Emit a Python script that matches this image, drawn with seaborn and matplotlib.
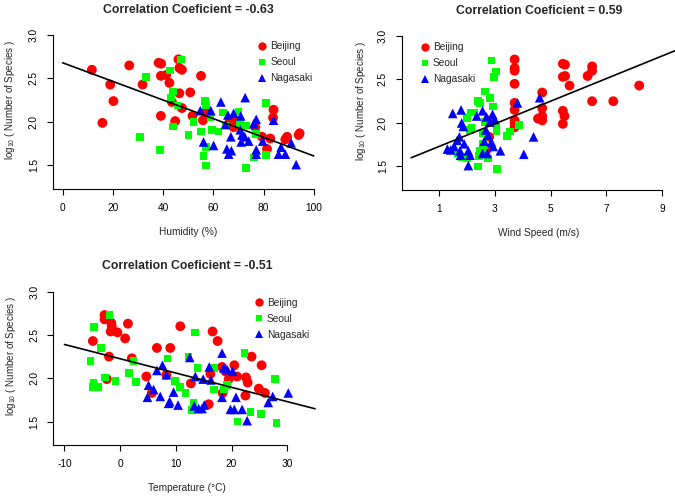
import numpy as np
import pandas as pd
import seaborn as sns
import matplotlib.pyplot as plt
from matplotlib.lines import Line2D

sns.set_style("ticks")
plt.rcParams['font.family'] = ['Liberation Sans', 'DejaVu Sans']
plt.rcParams['mathtext.default'] = 'regular'
plt.rcParams['axes.unicode_minus'] = False

cities = ['Beijing', 'Seoul', 'Nagasaki']
colors = {'Beijing': '#FF0000', 'Seoul': '#00FF00', 'Nagasaki': '#0000FF'}
markers = {'Beijing': 'o', 'Seoul': 's', 'Nagasaki': '^'}
sizes = {'Beijing': 50, 'Seoul': 30, 'Nagasaki': 48}

# humidity panel
hum_beijing_x = [11.6, 18.9, 20.2, 15.8, 26.5, 31.8, 38.2, 39.2, 39.1, 41.2, 42.5, 39.1, 43.5, 44.8, 46.1, 46.5, 47.5, 46.5, 47.5, 50.8,
                 55.1, 51.7, 55.9, 57.0, 66.8, 68.7, 68.1, 76.7, 79.4, 82.7, 81.4, 84.0, 83.8, 88.7, 89.4, 94.0, 94.4]
hum_beijing_y = [2.60, 2.43, 2.24, 1.99, 2.65, 2.43, 2.68, 2.67, 2.53, 2.54, 2.45, 2.07, 2.23, 2.01, 2.72, 2.62, 2.60, 2.33, 2.16, 2.34,
                 2.53, 2.07, 2.02, 2.12, 2.00, 2.02, 1.94, 1.94, 1.83, 1.81, 1.69, 2.14, 2.05, 1.80, 1.83, 1.85, 1.87]
hum_seoul_x = [30.9, 33.1, 38.8, 42.8, 43.9, 43.1, 43.9, 47.1, 45.7, 50.1, 52.1, 55.1, 56.8, 57.0, 56.1, 57.0, 57.0, 58.8, 59.4, 62.1,
               63.8, 64.8, 70.1, 70.7, 73.1, 73.0, 76.1, 77.1, 81.0, 81.1]
hum_seoul_y = [1.83, 2.52, 1.68, 2.59, 2.35, 2.28, 1.95, 2.72, 2.19, 1.85, 2.00, 1.89, 2.24, 2.19, 1.61, 1.50, 1.71, 2.06, 1.91, 1.89,
               2.11, 1.96, 2.12, 1.98, 1.96, 1.47, 1.59, 1.86, 2.22, 1.62]
hum_nagasaki_x = [54.8, 56.1, 59.0, 60.1, 63.0, 64.8, 65.4, 66.1, 67.2, 65.8, 67.0, 68.1, 70.9, 70.7, 71.4, 71.1, 72.7, 72.5, 74.1, 76.1,
                  77.1, 77.1, 77.1, 79.7, 84.0, 86.0, 87.0, 88.7, 91.0, 93.0]
hum_nagasaki_y = [2.13, 1.77, 2.13, 1.73, 2.23, 1.97, 1.69, 1.63, 1.67, 2.08, 1.83, 2.10, 2.07, 1.91, 1.85, 1.77, 2.28, 1.83, 1.78, 1.98,
                  2.03, 1.68, 1.63, 1.78, 2.02, 1.63, 1.71, 1.63, 1.76, 1.51]

# wind speed panel
wind_beijing_x = [2.80, 2.76, 2.73, 3.71, 3.71, 3.71, 3.71, 3.71, 3.71, 3.71, 3.71, 3.71, 4.70, 4.70, 4.70, 4.70, 4.55,
                  5.44, 5.52, 5.44, 5.52, 5.68, 5.44, 5.50, 5.44, 6.49, 6.49, 6.33, 6.49, 7.25, 8.18]
wind_beijing_y = [1.84, 2.03, 1.70, 2.73, 2.63, 2.60, 2.45, 2.23, 2.15, 2.03, 2.00, 1.95, 2.35, 2.17, 2.08, 2.03, 2.05,
                  2.68, 2.67, 2.53, 2.54, 2.43, 2.14, 2.08, 1.99, 2.65, 2.60, 2.54, 2.25, 2.25, 2.43]
wind_seoul_x = [2.88, 3.04, 2.98, 2.64, 2.82, 2.40, 2.46, 2.94, 2.13, 2.25, 2.01, 2.64, 3.06, 3.06, 2.17, 2.11, 3.87, 3.54, 3.44, 2.58,
                2.58, 2.61, 2.46, 2.44, 2.40, 1.81, 2.01, 3.08, 1.69, 2.76]
wind_seoul_y = [2.72, 2.59, 2.53, 2.36, 2.29, 2.25, 2.23, 2.19, 2.12, 2.12, 2.06, 2.01, 1.95, 1.90, 1.95, 1.92, 1.98, 1.90, 1.85, 1.88,
                1.76, 1.70, 1.68, 1.62, 1.50, 1.61, 1.60, 1.47, 1.65, 1.59]
wind_nagasaki_x = [1.49, 1.79, 1.81, 1.87, 1.73, 1.65, 1.54, 1.30, 1.42, 1.75, 1.77, 1.90, 2.05, 2.11, 2.05, 2.35, 2.56, 2.70, 2.92, 3.00,
                   2.82, 2.68, 2.76, 2.62, 2.88, 2.94, 3.20, 2.56, 2.73, 3.81, 4.61, 4.39, 4.04]
wind_nagasaki_y = [2.11, 2.15, 2.00, 1.96, 1.84, 1.80, 1.73, 1.70, 1.69, 1.68, 1.63, 1.76, 1.68, 1.63, 1.51, 2.08, 2.14, 2.07, 2.10, 2.04,
                   2.01, 1.92, 1.86, 1.79, 1.78, 1.73, 1.68, 1.65, 1.65, 2.23, 2.29, 1.84, 1.64]

# temperature panel
temp_beijing_x = [-2.8, -2.8, -1.6, -1.5, -1.7, -0.5, 1.4, 0.9, -4.9, -2.0, -2.4, 2.1, 4.7, 5.7, 6.6, 9.0, 10.8, 8.3, 12.7, 15.9,
                  16.2, 16.6, 17.5, 18.3, 18.9, 19.5, 20.5, 21.0, 22.6, 22.9, 22.5, 18.4, 23.6, 25.4, 24.9, 26.0]
temp_beijing_y = [2.73, 2.68, 2.64, 2.60, 2.54, 2.53, 2.63, 2.46, 2.43, 2.25, 1.99, 2.23, 2.02, 1.83, 2.35, 2.35, 2.60, 2.04, 1.94, 1.70,
                  2.05, 2.54, 2.43, 2.13, 2.08, 1.99, 2.15, 2.02, 2.01, 1.95, 1.80, 1.83, 2.25, 2.15, 1.88, 1.83]
temp_seoul_x = [-1.9, -4.7, -5.3, -4.8, -5.0, -3.9, -3.4, -2.7, -0.8, 1.6, 2.4, 2.9, 8.5, 9.8, 10.7, 11.7, 12.3, 13.4, 13.9, 13.2,
                12.9, 16.9, 16.9, 18.6, 19.2, 21.1, 22.3, 23.4, 25.3, 27.8, 28.1]
temp_seoul_y = [2.73, 2.59, 2.20, 1.95, 1.90, 1.90, 2.35, 2.01, 1.97, 2.06, 2.20, 1.96, 2.23, 1.97, 1.90, 1.83, 2.25, 2.53, 2.12, 1.72,
                1.63, 2.12, 1.87, 1.87, 1.92, 1.50, 2.29, 1.61, 1.59, 1.99, 1.48]
temp_nagasaki_x = [5.1, 6.0, 4.9, 7.2, 6.6, 7.6, 8.3, 8.7, 8.9, 9.6, 10.4, 12.5, 13.5, 13.3, 14.1, 14.7, 15.1, 14.9, 16.0, 16.3,
                   18.3, 18.3, 18.6, 19.2, 20.2, 19.8, 20.5, 20.8, 21.9, 22.8, 26.6, 27.4, 30.2]
temp_nagasaki_y = [1.92, 1.87, 1.78, 1.79, 2.09, 2.15, 2.04, 1.71, 1.73, 1.84, 1.69, 2.24, 2.02, 1.68, 1.65, 1.65, 1.69, 1.99, 2.13, 1.98,
                   2.29, 1.78, 2.12, 2.10, 2.08, 1.64, 1.64, 1.78, 1.64, 1.51, 1.72, 1.79, 1.83]

# fitted lines: intercept, slope, x range
fit_intercept = [2.68, 1.60, 2.225]
fit_slope = [-0.0107, 0.130, -0.0165]
fit_range = [(0, 100), (0, 10), (-10, 35)]

titles = ['Correlation Coeficient = -0.63', 'Correlation Coeficient = 0.59', 'Correlation Coeficient = -0.51']
xlabels = ['Humidity (%)', 'Wind Speed (m/s)', 'Temperature (\u00b0C)']
xticks = [[0, 20, 40, 60, 80, 100], [1, 3, 5, 7, 9], [-10, 0, 10, 20, 30]]
yticks = [1.5, 2.0, 2.5, 3.0]


def make_df(bx, by, sx, sy, nx, ny):
    parts = []
    for name, xs, ys in [('Beijing', bx, by), ('Seoul', sx, sy), ('Nagasaki', nx, ny)]:
        parts.append(pd.DataFrame({'x': xs, 'y': ys, 'city': name}))
    return pd.concat(parts, ignore_index=True)


data = [make_df(hum_beijing_x, hum_beijing_y, hum_seoul_x, hum_seoul_y, hum_nagasaki_x, hum_nagasaki_y),
        make_df(wind_beijing_x, wind_beijing_y, wind_seoul_x, wind_seoul_y, wind_nagasaki_x, wind_nagasaki_y),
        make_df(temp_beijing_x, temp_beijing_y, temp_seoul_x, temp_seoul_y, temp_nagasaki_x, temp_nagasaki_y)]

fig = plt.figure(figsize=(6.75, 4.96), dpi=100)
rects = [[0.0781, 0.619, 0.4015, 0.3105],
         [0.5951, 0.617, 0.4064, 0.3105],
         [0.0790, 0.103, 0.3960, 0.3090]]
xlims = [(-4, 104), (-0.34, 9.5), (-12, 36)]
ylim = (1.23, 3.0)
leg_anchor = [(0.755, 0.96), (0.065, 0.96), (0.75, 0.96)]
ylabel_x = [-0.132, -0.123, -0.132]

for i in range(3):
    ax = fig.add_axes(rects[i])
    sns.scatterplot(data=data[i], x='x', y='y', hue='city', style='city', size='city',
                    palette=colors, markers=markers, sizes=sizes, linewidth=0,
                    legend=False, ax=ax, clip_on=False, zorder=3)
    x0, x1 = fit_range[i]
    xs = np.array([x0, x1])
    ax.plot(xs, fit_intercept[i] + fit_slope[i] * xs, color='black', lw=1.2, zorder=4)

    ax.set_xlim(xlims[i])
    ax.set_ylim(ylim)
    ax.set_xticks(xticks[i])
    ax.set_yticks(yticks)
    ax.set_yticklabels(['%.1f' % v for v in yticks], rotation=90, va='center')
    ax.tick_params(direction='out', length=4, width=0.8, labelsize=7.3, pad=6, colors='black')
    ax.spines['top'].set_visible(False)
    ax.spines['right'].set_visible(False)
    ax.spines['left'].set_bounds(ylim[0], 3.0)
    ax.spines['bottom'].set_bounds(xlims[i][0], xticks[i][-1])
    for s in ['left', 'bottom']:
        ax.spines[s].set_linewidth(0.8)
        ax.spines[s].set_color('black')
    ax.set_xlabel(xlabels[i], fontsize=7.3, labelpad=10)
    ax.set_ylabel(r'log$_{10}$ ( Number of Species )', fontsize=7.0)
    ax.yaxis.set_label_coords(ylabel_x[i], 0.58)
    ax.set_title(titles[i], fontsize=8.8, fontweight='bold', pad=16)

    handles = [Line2D([], [], ls='none', marker=markers[c], color=colors[c],
                      markersize=6 if c != 'Seoul' else 5, markeredgewidth=0) for c in cities]
    ax.legend(handles, cities, frameon=False, loc='upper left', bbox_to_anchor=leg_anchor[i],
              fontsize=7.3, handlelength=1.0, handletextpad=0.3, labelspacing=0.6,
              borderaxespad=0, borderpad=0)

fig.savefig('out.png', dpi=100)
